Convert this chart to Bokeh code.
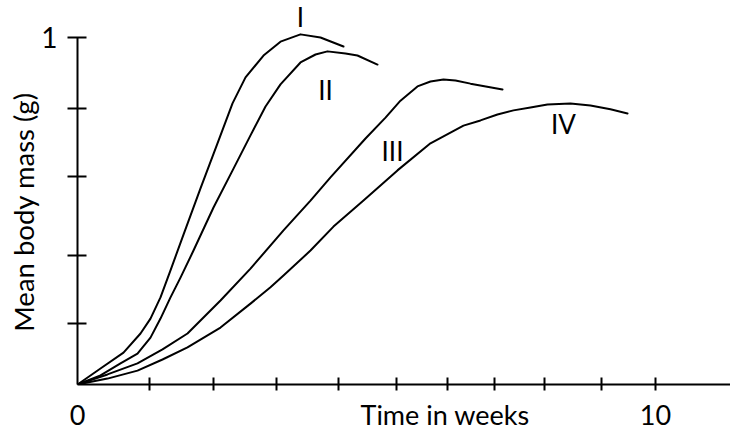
from bokeh.plotting import figure
from bokeh.models import FixedTicker, LinearAxis
from bokeh.core.properties import value
from bokeh.embed import file_html
from bokeh.resources import INLINE

# ---- data ----
weeks_I = [0, 0.398, 0.796, 1.090, 1.263, 1.436, 1.609, 1.834, 2.128, 2.422, 2.682, 2.907, 3.218, 3.512, 3.858, 4.204, 4.602]
mass_I = [0, 0.046, 0.092, 0.147, 0.190, 0.251, 0.329, 0.432, 0.565, 0.695, 0.810, 0.885, 0.948, 0.988, 1.009, 1.000, 0.974]

weeks_II = [0, 0.398, 0.744, 1.038, 1.263, 1.436, 1.609, 1.782, 2.007, 2.353, 2.699, 2.993, 3.253, 3.512, 3.858, 4.118, 4.325, 4.637, 4.844, 5.190]
mass_II = [0, 0.026, 0.061, 0.089, 0.135, 0.190, 0.251, 0.308, 0.386, 0.510, 0.622, 0.718, 0.801, 0.865, 0.928, 0.951, 0.960, 0.954, 0.948, 0.922]

weeks_III = [0, 0.519, 1.038, 1.471, 1.903, 2.474, 2.993, 3.564, 4.031, 4.377, 4.983, 5.329, 5.588, 5.882, 6.107, 6.332, 6.540, 6.799, 7.353]
mass_III = [0, 0.029, 0.061, 0.101, 0.147, 0.242, 0.334, 0.444, 0.530, 0.597, 0.709, 0.769, 0.818, 0.859, 0.873, 0.879, 0.876, 0.867, 0.850]

weeks_IV = [0, 0.519, 1.038, 1.471, 1.903, 2.474, 2.993, 3.339, 3.564, 4.031, 4.429, 4.948, 5.536, 6.107, 6.678, 6.972, 7.266, 7.543, 7.837, 8.131, 8.529, 8.875, 9.221, 9.516]
mass_IV = [0, 0.017, 0.040, 0.072, 0.107, 0.164, 0.233, 0.280, 0.314, 0.386, 0.455, 0.530, 0.617, 0.695, 0.746, 0.761, 0.778, 0.790, 0.798, 0.807, 0.810, 0.804, 0.793, 0.781]

curve_names = ["I", "II", "III", "IV"]
name_x = [3.858, 4.291, 5.450, 8.408]
name_y = [1.06, 0.848, 0.673, 0.752]

x_tick_marks = [1.246, 2.353, 3.443, 4.516, 5.519, 6.401, 7.215, 8.080, 9.066, 10.0]
x_tick_labels = {0: "0", 6.36: "Time in weeks", 10: "10"}
y_tick_marks = [0.176, 0.372, 0.599, 0.795, 1.0]
y_tick_labels = {1.0: "1"}
y_title = {0.497: "Mean body mass (g)"}

FONT = "Lato"

p = figure(width=730, height=439, x_range=(0, 11.298), y_range=(0, 1.1066),
           output_backend="svg", toolbar_location=None,
           min_border_left=77, min_border_right=0, min_border_top=0, min_border_bottom=55)
p.outline_line_color = None
p.grid.visible = False
p.background_fill_color = "white"
p.border_fill_color = "white"

for xs, ys in [(weeks_I, mass_I), (weeks_II, mass_II), (weeks_III, mass_III), (weeks_IV, mass_IV)]:
    p.line(xs, ys, line_color="black", line_width=2, line_join="round", line_cap="round")

p.text(x=name_x, y=name_y, text=curve_names, text_font=value(FONT), text_font_size="26px",
       text_color="black", text_align="center", text_baseline="middle")

xa = p.xaxis[0]
xa.ticker = FixedTicker(ticks=list(x_tick_labels.keys()), minor_ticks=x_tick_marks)
xa.major_label_overrides = dict(x_tick_labels)
xa.major_tick_in = 0
xa.major_tick_out = 0
xa.minor_tick_in = 7
xa.minor_tick_out = 6
xa.minor_tick_line_width = 2
xa.minor_tick_line_color = "black"
xa.axis_line_width = 2
xa.axis_line_color = "black"
xa.major_label_standoff = 7
xa.major_label_text_font = FONT
xa.major_label_text_font_size = "27px"
xa.major_label_text_color = "black"

ya = p.yaxis[0]
ya.ticker = FixedTicker(ticks=list(y_tick_labels.keys()), minor_ticks=y_tick_marks)
ya.major_label_overrides = dict(y_tick_labels)
ya.bounds = (0, 1)
ya.major_tick_in = 0
ya.major_tick_out = 0
ya.minor_tick_in = 9
ya.minor_tick_out = 10
ya.minor_tick_line_width = 2
ya.minor_tick_line_color = "black"
ya.axis_line_width = 2
ya.axis_line_color = "black"
ya.major_label_standoff = 10
ya.major_label_text_font = FONT
ya.major_label_text_font_size = "28px"
ya.major_label_text_color = "black"

# axis title carried by an outer, line-less axis so it can sit at the reference's height
yt = LinearAxis(ticker=FixedTicker(ticks=list(y_title.keys())),
                major_label_overrides=dict(y_title),
                major_label_orientation="vertical",
                axis_line_color=None, major_tick_line_color=None, minor_tick_line_color=None,
                major_tick_in=0, major_tick_out=0, minor_tick_in=0, minor_tick_out=0,
                major_label_standoff=-2,
                major_label_text_font=FONT, major_label_text_font_size="27.5px",
                major_label_text_color="black")
p.add_layout(yt, "left")

open("out.html", "w").write(file_html(p, INLINE))
